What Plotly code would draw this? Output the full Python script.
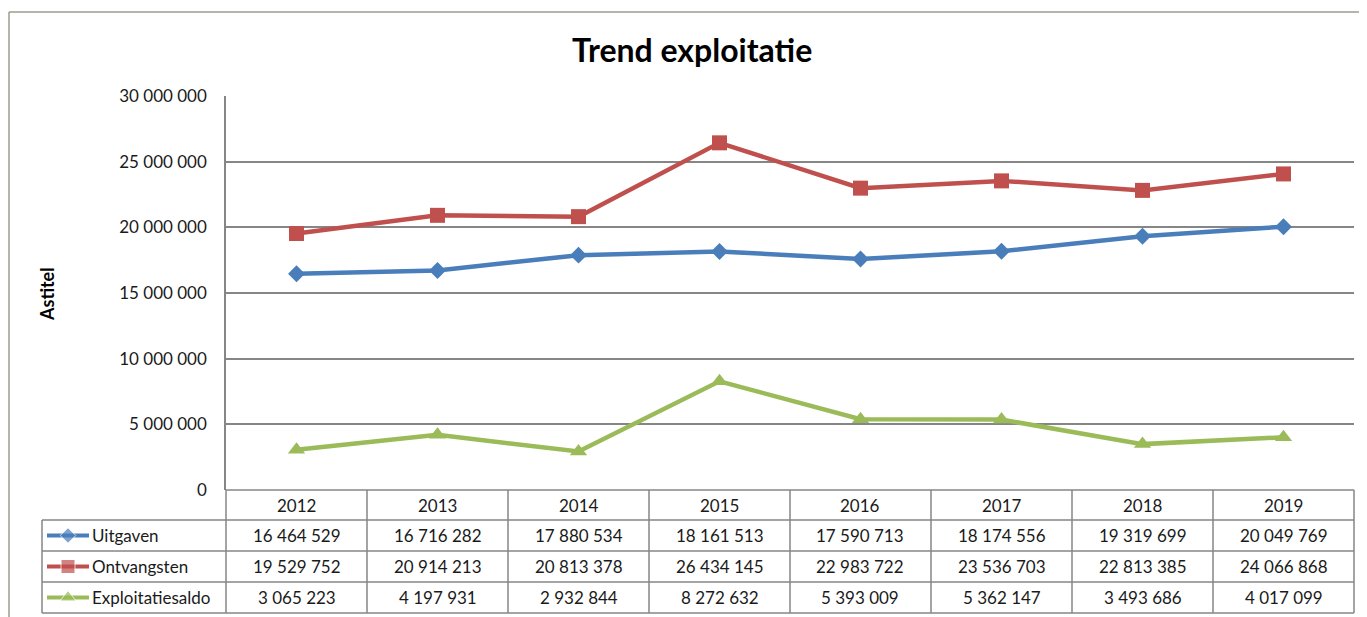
import plotly.graph_objects as go

W, H = 1367, 617
OFF = 8  # default body margin of the html page
FW, FH = W - OFF, H - OFF

years = ["2012", "2013", "2014", "2015", "2016", "2017", "2018", "2019"]
uitgaven = [16464529, 16716282, 17880534, 18161513, 17590713, 18174556, 19319699, 20049769]
ontvangsten = [19529752, 20914213, 20813378, 26434145, 22983722, 23536703, 22813385, 24066868]
saldo = [3065223, 4197931, 2932844, 8272632, 5393009, 5362147, 3493686, 4017099]

series_names = ["Uitgaven", "Ontvangsten", "Exploitatiesaldo"]
series_values = [uitgaven, ontvangsten, saldo]
colors = ["#4A7EBB", "#C0504D", "#9BBB59"]
symbols = ["diamond", "square", "triangle-up"]
msizes = [13, 15, 15]

FONT = "Lato"
GRID = "#868686"

# pixel layout of the Excel-like chart (page coordinates)
plot_l, plot_r, plot_t, plot_b = 226, 1354, 96, 490
row_edges = [490, 520, 551, 582, 613]
key_l = 42


def px(x):
    return (x - OFF) / FW


def py(y):
    return 1 - (y - OFF) / FH


def fmt(v):
    return f"{v:,}".replace(",", " ")


def label(x, y, text, font, **kw):
    d = dict(x=px(x), y=py(y), xref="paper", yref="paper", text=text, showarrow=False,
             font=font, xanchor="center", yanchor="middle")
    d.update(kw)
    return d


fig = go.Figure()

for name, vals, clr, sym, ms in zip(series_names, series_values, colors, symbols, msizes):
    fig.add_trace(
        go.Scatter(
            x=years,
            y=vals,
            mode="lines+markers",
            name=name,
            line=dict(color=clr, width=4.5),
            marker=dict(symbol=sym, size=ms, color=clr),
            showlegend=False,
        )
    )

# legend keys inside the data table, on a full-page pixel axis
col_w = (plot_r - plot_l) / len(years)
for i, (clr, sym, ms) in enumerate(zip(colors, symbols, msizes)):
    yc = (row_edges[i + 1] + row_edges[i + 2]) / 2
    fig.add_trace(
        go.Scatter(
            x=[47, 68, 89],
            y=[yc, yc, yc],
            mode="lines+markers",
            line=dict(color=clr, width=4),
            marker=dict(symbol=sym, size=[0, ms - 1, 0], color=clr),
            xaxis="x2",
            yaxis="y2",
            showlegend=False,
            hoverinfo="skip",
        )
    )

shapes = []
line = dict(color=GRID, width=1.5)
border = dict(color="#9c9c8c", width=1.5)
# outer chart border
shapes.append(dict(type="line", xref="paper", yref="paper", x0=px(9), x1=1, y0=py(12), y1=py(12), line=border))
shapes.append(dict(type="line", xref="paper", yref="paper", x0=px(9), x1=px(9), y0=py(12), y1=0, line=border))
# table horizontal lines
shapes.append(dict(type="line", xref="paper", yref="paper", x0=px(plot_l), x1=px(plot_r),
                   y0=py(row_edges[0]), y1=py(row_edges[0]), line=line))
for ry in row_edges[1:]:
    shapes.append(dict(type="line", xref="paper", yref="paper", x0=px(key_l), x1=px(plot_r),
                       y0=py(ry), y1=py(ry), line=line))
# table vertical lines
shapes.append(dict(type="line", xref="paper", yref="paper", x0=px(key_l), x1=px(key_l),
                   y0=py(row_edges[1]), y1=py(row_edges[-1]), line=line))
for j in range(len(years) + 1):
    xx = plot_l + j * col_w
    shapes.append(dict(type="line", xref="paper", yref="paper", x0=px(xx), x1=px(xx),
                       y0=py(row_edges[0]), y1=py(row_edges[-1]), line=line))

annotations = []
tfont = dict(family=FONT, size=17, color="#1a1a1a")
for j, yr in enumerate(years):
    xc = plot_l + (j + 0.5) * col_w
    annotations.append(label(xc, (row_edges[0] + row_edges[1]) / 2, yr, tfont))
    for i, vals in enumerate(series_values):
        yc = (row_edges[i + 1] + row_edges[i + 2]) / 2
        annotations.append(label(xc, yc, fmt(vals[j]), tfont))
for i, name in enumerate(series_names):
    yc = (row_edges[i + 1] + row_edges[i + 2]) / 2
    annotations.append(label(90, yc, name, tfont, xanchor="left"))

annotations.append(label(692, 49, "<b>Trend exploitatie</b>", dict(family=FONT, size=32, color="#000000")))
annotations.append(label(47, 294, "<b>Astitel</b>", dict(family=FONT, size=18, color="#000000"), textangle=-90))

fig.update_layout(
    width=FW,
    height=FH,
    margin=dict(l=0, r=0, t=0, b=0, autoexpand=False),
    paper_bgcolor="white",
    plot_bgcolor="rgba(0,0,0,0)",
    separators=", ",
    font=dict(family=FONT),
    xaxis=dict(
        domain=[px(plot_l), px(plot_r)],
        type="category",
        range=[-0.5, len(years) - 0.5],
        showticklabels=False,
        showgrid=False,
        zeroline=False,
        showline=False,
        automargin=False,
    ),
    yaxis=dict(
        domain=[py(plot_b), py(plot_t)],
        range=[0, 30000000],
        dtick=5000000,
        tickformat=",d",
        showgrid=True,
        gridcolor=GRID,
        gridwidth=1.5,
        zeroline=False,
        showline=True,
        linecolor=GRID,
        linewidth=1.5,
        ticks="",
        ticklabelstandoff=14,
        automargin=False,
        tickfont=dict(family=FONT, size=17, color="#1a1a1a"),
    ),
    xaxis2=dict(domain=[0, 1], range=[OFF, W], visible=False, anchor="y2", automargin=False),
    yaxis2=dict(domain=[0, 1], range=[H, OFF], visible=False, anchor="x2", automargin=False),
    shapes=shapes,
    annotations=annotations,
)

fig.write_html("out.html")
